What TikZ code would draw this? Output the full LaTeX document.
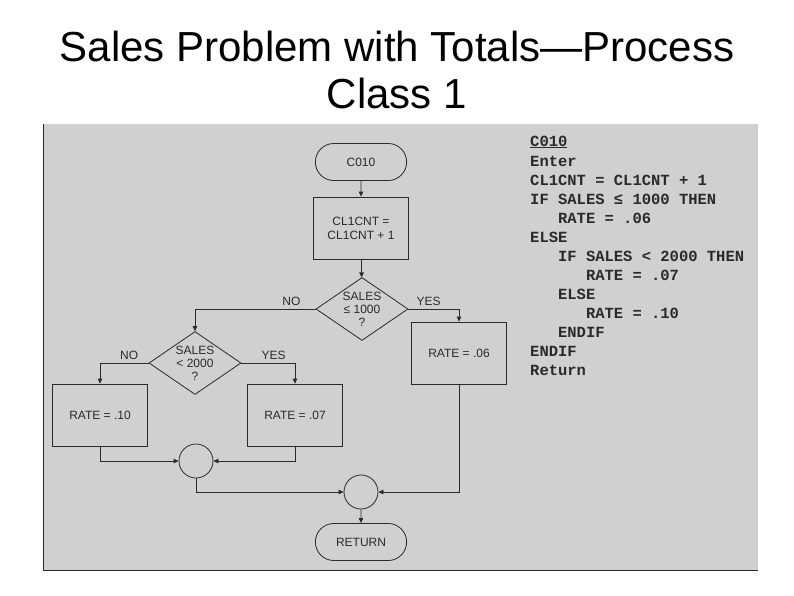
\documentclass[tikz,border=0pt]{standalone}
\usepackage{fontspec}
\setmainfont{Liberation Sans}
\newfontfamily\codefont{Liberation Mono}
\usetikzlibrary{shapes.geometric,shapes.misc,arrows.meta}
\definecolor{panel}{HTML}{D0D0D0}
\definecolor{ink}{HTML}{2A2A2A}
\begin{document}
\begin{tikzpicture}[x=1pt,y=-1pt,
  every node/.style={text=ink,font=\fontsize{12}{14}\selectfont},
  box/.style={draw=ink,line width=0.8pt,minimum width=95pt,minimum height=62pt,align=center},
  term/.style={draw=ink,line width=0.8pt,rounded rectangle,minimum width=98pt,minimum height=37pt},
  dia/.style={draw=ink,line width=0.8pt,diamond,aspect=1.46,minimum width=92pt,minimum height=63pt,inner sep=0pt,align=center,font=\fontsize{12}{13}\selectfont},
  jn/.style={draw=ink,line width=0.8pt,circle,minimum size=34pt,inner sep=0pt},
  arr/.style={draw=ink,line width=0.8pt,-{Triangle[length=5pt,width=4.5pt]}},
  lab/.style={font=\fontsize{12}{14}\selectfont},
  code/.style={anchor=west,inner sep=0pt,font=\codefont\bfseries\fontsize{15.5}{17}\selectfont}]
\useasboundingbox (0,0) rectangle (794,595);
\fill[white] (0,0) rectangle (794,595);
\fill[panel] (43,124) rectangle (758,570);
\draw[ink,line width=0.8pt] (43,124) -- (43,570) -- (758,570);
\node[font=\fontsize{42}{47}\selectfont,text=black,align=center] (title) at (397,70) {Sales Problem with Totals—Process\\Class 1};
\node[term] (c010) at (361,162) {C010};
\node[box] (inc) at (361,228) {CL1CNT =\\CL1CNT + 1};
\node[dia] (d1) at (362,309) {SALES\\≤ 1000\\?};
\node[box] (r06) at (459,353) {RATE = .06};
\node[dia] (d2) at (195,363) {SALES\\< 2000\\?};
\node[box] (r10) at (100,415) {RATE = .10};
\node[box] (r07) at (295,415) {RATE = .07};
\node[jn] (j1) at (196,461) {};
\node[jn] (j2) at (361,492) {};
\node[term] (ret) at (361,542) {RETURN};
\draw[arr] (c010) -- (inc);
\draw[arr] (inc) -- (d1);
\draw[arr] (d1.west) -| node[lab,pos=0.1,above] (no1) {NO} (d2.north);
\draw[arr] (d1.east) -| node[lab,pos=0.2,above] (yes1) {YES} (r06.north);
\draw[arr] (d2.west) -| node[lab,pos=0.2,above] (no2) {NO} (r10.north);
\draw[arr] (d2.east) -| node[lab,pos=0.3,above] (yes2) {YES} (r07.north);
\draw[arr] (r10.south) |- (j1.west);
\draw[arr] (r07.south) |- (j1.east);
\draw[arr] (j1.south) |- (j2.west);
\draw[arr] (r06.south) |- (j2.east);
\draw[arr] (j2) -- (ret);
\node[code] (l1) at (530,142) {\underline{C010}};
\node[code] (l2) at (530,161) {Enter};
\node[code] (l3) at (530,180) {CL1CNT = CL1CNT + 1};
\node[code] (l4) at (530,199) {IF SALES ≤ 1000 THEN};
\node[code] (l5) at (530,218) {\ \ \ RATE = .06};
\node[code] (l6) at (530,237) {ELSE};
\node[code] (l7) at (530,256) {\ \ \ IF SALES < 2000 THEN};
\node[code] (l8) at (530,275) {\ \ \ \ \ \ RATE = .07};
\node[code] (l9) at (530,294) {\ \ \ ELSE};
\node[code] (l10) at (530,313) {\ \ \ \ \ \ RATE = .10};
\node[code] (l11) at (530,332) {\ \ \ ENDIF};
\node[code] (l12) at (530,351) {ENDIF};
\node[code] (l13) at (530,370) {Return};
\end{tikzpicture}
\end{document}
